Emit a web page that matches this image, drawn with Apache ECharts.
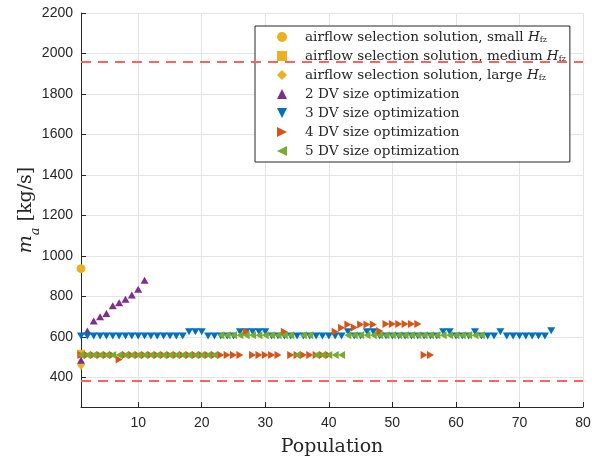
<!DOCTYPE html>
<html>
<head>
<meta charset="utf-8">
<script src="https://cdn.jsdelivr.net/npm/echarts@6/dist/echarts.min.js"></script>
<style>
  html, body { margin: 0; padding: 0; background: #fff; }
  #chart { width: 592px; height: 465px; }
</style>
</head>
<body>
<div id="chart"></div>
<script>
// Axis ticks
const xTicks = [10, 20, 30, 40, 50, 60, 70, 80];
const yTicks = [400, 600, 800, 1000, 1200, 1400, 1600, 1800, 2000, 2200];

// Upper and lower air mass flow limits (kg/s)
const limitLines = [1960, 387];

// Airflow selection solutions, [population, m_a]
const smallHfz = [[1, 938]];
const mediumHfz = [[1, 518]];
const largeHfz = [[1, 464]];

// Size optimizations, [population, m_a]
const dv2 = [[1, 486], [2, 630], [3, 679], [4, 700], [5, 717], [6, 755], [7, 770],
  [8, 787], [9, 808], [10, 836], [11, 881]];

const dv3 = [[1, 606], [2, 606], [3, 606], [4, 606], [5, 606], [6, 606], [7, 606], [8, 606],
  [9, 606], [10, 606], [11, 606], [12, 606], [13, 606], [14, 606], [15, 606], [16, 606],
  [17, 606], [18, 626], [19, 626], [20, 626], [21, 606], [22, 606], [23, 606], [24, 606],
  [25, 606], [26, 626], [27, 626], [28, 626], [29, 626], [30, 626], [31, 606], [32, 606],
  [33, 606], [34, 606], [35, 606], [36, 606], [37, 606], [38, 606], [39, 606], [40, 606],
  [41, 606], [42, 606], [43, 626], [44, 606], [45, 606], [46, 626], [47, 626], [48, 606],
  [49, 606], [50, 606], [51, 606], [52, 606], [53, 606], [54, 606], [55, 606], [56, 606],
  [57, 606], [58, 626], [59, 626], [60, 606], [61, 606], [62, 606], [63, 626], [64, 606],
  [65, 606], [66, 606], [67, 626], [68, 606], [69, 606], [70, 606], [71, 606], [72, 606],
  [73, 606], [74, 606], [75, 632]];

const dv4 = [[1, 512], [2, 512], [3, 512], [4, 512], [5, 512], [6, 512], [7, 490], [8, 512],
  [9, 512], [10, 512], [11, 512], [12, 512], [13, 512], [14, 512], [15, 512], [16, 512],
  [17, 512], [18, 512], [19, 512], [20, 512], [21, 512], [22, 512], [23, 512], [24, 512],
  [25, 512], [26, 512], [27, 626], [28, 512], [29, 512], [30, 512], [31, 512], [32, 512],
  [33, 626], [34, 512], [35, 512], [36, 512], [37, 512], [38, 512], [39, 512], [40, 512],
  [41, 626], [42, 646], [43, 662], [44, 648], [45, 662], [46, 662], [47, 662], [48, 630],
  [49, 665], [50, 665], [51, 665], [52, 665], [53, 665], [54, 665], [55, 512], [56, 512]];

const dv5 = [[1, 512], [2, 512], [3, 512], [4, 512], [5, 512], [6, 512], [7, 512], [8, 512],
  [9, 512], [10, 512], [11, 512], [12, 512], [13, 512], [14, 512], [15, 512], [16, 512],
  [17, 512], [18, 512], [19, 512], [20, 512], [21, 512], [22, 512], [23, 609], [24, 609],
  [25, 609], [26, 609], [27, 609], [28, 609], [29, 609], [30, 609], [31, 609], [32, 609],
  [33, 609], [34, 609], [35, 512], [36, 609], [37, 609], [38, 512], [39, 512], [40, 512],
  [41, 512], [42, 512], [43, 609], [44, 609], [45, 609], [46, 609], [47, 609], [48, 609],
  [49, 609], [50, 609], [51, 609], [52, 609], [53, 609], [54, 609], [55, 609], [56, 609],
  [57, 609], [58, 609], [59, 609], [60, 609], [61, 609], [62, 609], [63, 609], [64, 609]];

const names = [
  'airflow selection solution, small',
  'airflow selection solution, medium',
  'airflow selection solution, large',
  '2 DV size optimization',
  '3 DV size optimization',
  '4 DV size optimization',
  '5 DV size optimization'
];
const hfzNames = names.slice(0, 3);

const C_YEL = '#EDB120', C_PUR = '#7E2F8E', C_BLU = '#0072BD', C_ORA = '#D95319', C_GRN = '#77AC30';
const TRI_DOWN = 'path://M0,0L2,0L1,2Z';
const TRI_RIGHT = 'path://M0,0L2,1L0,2Z';
const TRI_LEFT = 'path://M2,0L0,1L2,2Z';

const axisColor = '#262626';
const gridColor = '#e4e4e4';
const serif = '"DejaVu Serif", "Liberation Serif", serif';
const sans = '"Liberation Sans", Arial, Helvetica, sans-serif';

function scatter(name, data, symbol, size, color) {
  return {
    type: 'scatter', name: name, data: data, symbol: symbol, symbolSize: size,
    itemStyle: { color: color, opacity: 1 }, emphasis: { disabled: true }
  };
}

const legendRich = {
  g: { width: 13, lineHeight: 14 },
  i: { fontFamily: serif, fontSize: 13.6, fontStyle: 'italic', color: axisColor, lineHeight: 14 },
  s: { fontFamily: serif, fontSize: 8, color: axisColor, verticalAlign: 'bottom', lineHeight: 14 }
};

const chart = echarts.init(document.getElementById('chart'), null, { renderer: 'canvas' });
chart.setOption({
  animation: false,
  backgroundColor: '#fff',
  grid: { left: 81, right: 9, top: 13, bottom: 58, containLabel: false, outerBoundsMode: 'none' },
  xAxis: {
    type: 'value', min: 1, max: 80,
    name: 'Population', nameLocation: 'middle', nameGap: 31, nameMoveOverlap: false,
    nameTextStyle: { fontFamily: serif, fontSize: 19, color: axisColor },
    axisLine: { show: true, onZero: false, lineStyle: { color: axisColor, width: 1 } },
    axisTick: { show: true, inside: true, length: 5, customValues: xTicks, lineStyle: { color: axisColor } },
    axisLabel: { customValues: xTicks, fontFamily: sans, fontSize: 14, color: axisColor, margin: 9,
      formatter: function (v) { return String(v); } },
    splitLine: { show: true, lineStyle: { color: gridColor, width: 1 } }
  },
  yAxis: {
    type: 'value', min: 255, max: 2200,
    name: '{i|m}{s|a} [kg/s]', nameLocation: 'middle', nameGap: 45, nameRotate: 90, nameMoveOverlap: false,
    nameTextStyle: {
      fontFamily: serif, fontSize: 19, color: axisColor,
      rich: {
        i: { fontFamily: serif, fontSize: 19, fontStyle: 'italic', color: axisColor },
        s: { fontFamily: serif, fontSize: 13, fontStyle: 'italic', color: axisColor, verticalAlign: 'bottom', padding: [0, 0, -6, 0] }
      }
    },
    axisLine: { show: true, onZero: false, lineStyle: { color: axisColor, width: 1 } },
    axisTick: { show: true, inside: true, length: 5, customValues: yTicks, lineStyle: { color: axisColor } },
    axisLabel: { customValues: yTicks, fontFamily: sans, fontSize: 14, color: axisColor, margin: 8,
      formatter: function (v) { return String(v); } },
    splitLine: { show: true, lineStyle: { color: gridColor, width: 1 } }
  },
  legend: {
    orient: 'vertical', left: 255, top: 26,
    data: names,
    backgroundColor: '#fff', borderColor: axisColor, borderWidth: 1,
    padding: [4, 4, 4, 22],
    itemWidth: 10, itemHeight: 10, itemGap: 5,
    selectedMode: false,
    textStyle: {
      fontFamily: serif, fontSize: 13.6, color: axisColor, lineHeight: 14,
      rich: legendRich
    },
    formatter: function (name) {
      return hfzNames.indexOf(name) >= 0 ? '{g|}' + name + ' {i|H}{s|fz}' : '{g|}' + name;
    }
  },
  series: [
    {
      type: 'line', name: 'limits', data: [], silent: true,
      markLine: {
        silent: true, symbol: 'none', animation: false,
        label: { show: false },
        lineStyle: { color: '#ff6060', type: [10, 7], width: 2 },
        data: limitLines.map(function (v) { return { yAxis: v }; })
      }
    },
    scatter(names[0], smallHfz, 'circle', 9, C_YEL),
    scatter(names[1], mediumHfz, 'rect', 8, C_YEL),
    scatter(names[2], largeHfz, 'diamond', [8, 11], C_YEL),
    scatter(names[3], dv2, 'triangle', [8, 7], C_PUR),
    scatter(names[4], dv3, TRI_DOWN, [8, 7], C_BLU),
    scatter(names[5], dv4, TRI_RIGHT, [7, 8], C_ORA),
    scatter(names[6], dv5, TRI_LEFT, [7, 8], C_GRN)
  ]
});
</script>
</body>
</html>
